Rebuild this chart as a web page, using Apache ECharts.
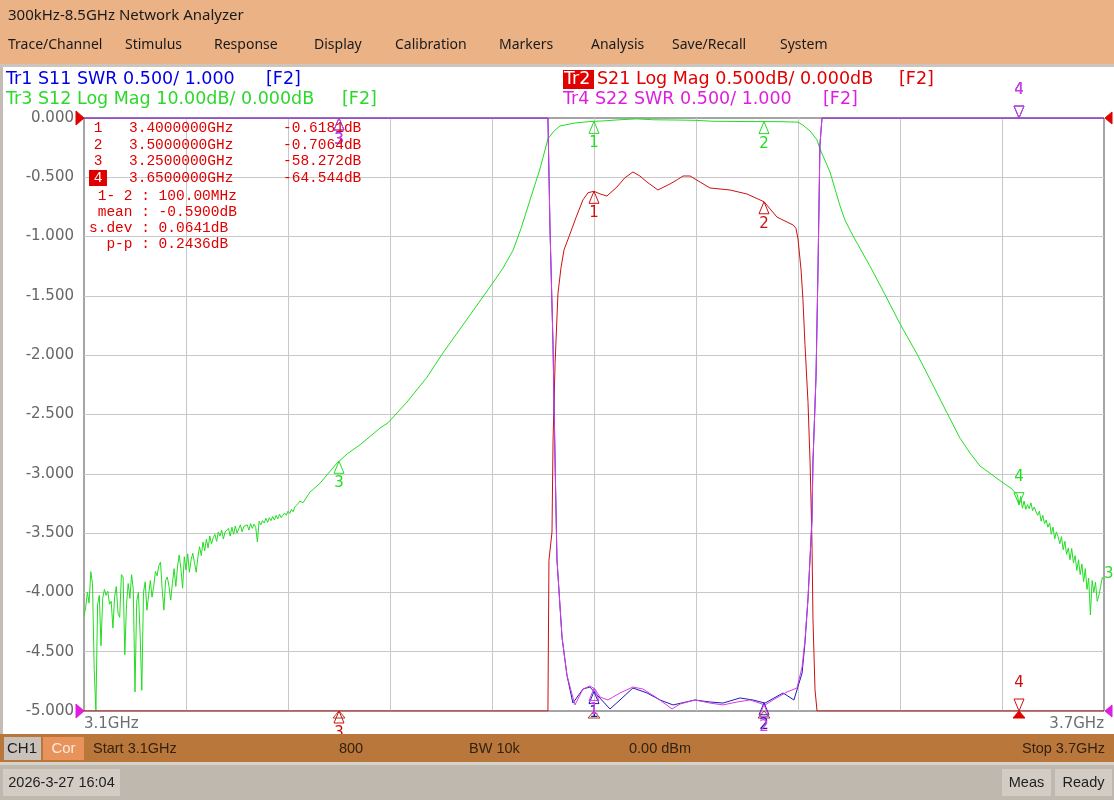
<!DOCTYPE html>
<html><head><meta charset="utf-8">
<script src="https://cdn.jsdelivr.net/npm/echarts@6/dist/echarts.min.js"></script>
<style>html,body{margin:0;padding:0;background:#fff;overflow:hidden}#c{width:1114px;height:800px}</style>
</head><body><div id="c"></div>
<script>
const START_GHZ = 3.1, STOP_GHZ = 3.7;
const xEndLabels = ['3.1GHz', '3.7GHz'];
const yTickDecimals = 3;

// Tr2 S21 Log Mag [GHz, dB] (display floor at -5 dB)
const s21 = [
  [3.1000,-5.0],[3.3729,-5.0],[3.3735,-3.73],[3.3753,-3.49],[3.3759,-2.73],[3.3771,-2.07],
  [3.3788,-1.48],[3.3806,-1.26],[3.3824,-1.11],[3.3853,-1.00],[3.3894,-0.84],[3.3935,-0.69],
  [3.3965,-0.63],[3.4000,-0.618],[3.4035,-0.64],[3.4076,-0.658],[3.4135,-0.582],[3.4180,-0.506],
  [3.4229,-0.455],[3.4270,-0.489],[3.4312,-0.540],[3.4376,-0.607],[3.4447,-0.556],[3.4490,-0.52],
  [3.4524,-0.489],[3.4565,-0.489],[3.4624,-0.540],[3.4682,-0.590],[3.4800,-0.607],[3.4900,-0.641],
  [3.5000,-0.706],[3.5076,-0.835],[3.5135,-0.877],[3.5171,-0.902],[3.5188,-0.93],[3.5200,-1.02],
  [3.5218,-1.28],[3.5229,-1.53],[3.5241,-1.91],[3.5259,-2.40],[3.5271,-2.90],[3.5282,-3.56],
  [3.5288,-4.22],[3.5300,-4.82],[3.5312,-5.0],[3.7000,-5.0]
];

// Tr3 S12 Log Mag [dB]; noisy floor sampled every 1 MHz
const s12NoiseStep = 0.001;
const s12NoiseLowStart = 3.100;
const s12NoiseLow = [
  -84.0,-82.5,-80.0,-81.8,-76.5,-78.5,-93.0,-100.0,-82.0,-80.5,
  -89.0,-81.0,-79.5,-80.5,-79.8,-82.0,-81.5,-86.0,-80.8,-79.0,
  -83.5,-84.2,-77.0,-77.4,-90.5,-82.0,-78.5,-81.0,-77.0,-79.5,
  -96.8,-81.5,-80.0,-87.0,-96.5,-80.0,-78.2,-83.0,-80.5,-78.0,
  -80.8,-79.0,-76.5,-77.2,-75.5,-74.9,-79.5,-83.0,-78.0,-77.4,
  -79.0,-81.3,-78.5,-76.0,-79.0,-75.7,-73.7,-76.0,-79.3,-74.0,
  -76.2,-73.5,-76.6,-74.5,-73.4,-75.0,-76.6,-74.0,-72.3,-73.8,
  -71.5,-73.0,-71.0,-72.5,-70.5,-71.8,-70.8,-70.2,-71.4,-69.8,
  -70.5,-69.5,-71.0,-69.8,-70.0,-69.2,-70.5,-69.0,-70.2,-68.8,
  -70.0,-69.3,-68.6,-69.8,-68.9,-69.1,-68.6,-69.5,-68.4,-69.2,
  -68.5,-69.0,-71.5,-68.0,-68.6,-67.9,-68.3,-67.5,-68.2,-67.4,
  -67.9,-67.2,-67.8,-67.0,-67.6,-66.8,-67.4,-67.2,-66.6,-67.0,
  -66.3,-66.7,-66.0,-66.4,-65.6,-65.9,-65.0,-64.6
];
const s12Sweep = [
  [3.2288,-64.9],[3.2329,-63.1],[3.2388,-61.6],[3.2488,-58.2],[3.2550,-56.6],[3.2624,-55.1],
  [3.2741,-52.3],[3.2788,-51.4],[3.2900,-47.9],[3.3018,-43.7],[3.3112,-39.6],[3.3229,-34.9],
  [3.3388,-28.5],[3.3465,-25.3],[3.3524,-22.3],[3.3571,-18.6],[3.3624,-13.8],[3.3682,-8.6],
  [3.3729,-3.54],[3.3765,-2.19],[3.3800,-1.35],[3.3888,-0.84],[3.3976,-0.60],[3.4050,-0.50],
  [3.4150,-0.30],[3.4250,-0.15],[3.4350,-0.30],[3.4500,-0.35],[3.4600,-0.40],[3.4700,-0.55],
  [3.4900,-0.60],[3.5100,-0.62],[3.5200,-0.70],[3.5229,-1.2],[3.5271,-2.2],[3.5312,-3.7],
  [3.5329,-5.2],[3.5388,-9.1],[3.5447,-14.8],[3.5476,-17.2],[3.5524,-19.9],[3.5624,-25.0],
  [3.5712,-29.8],[3.5800,-34.7],[3.5900,-39.8],[3.5988,-44.7],[3.6076,-49.7],[3.6153,-54.0],
  [3.6212,-56.5],[3.6271,-58.7],[3.6329,-59.9],[3.6400,-61.4]
];
const s12NoiseHighStart = 3.646;
const s12NoiseHigh = [
  -62.6,-63.0,-62.8,-63.5,-65.2,-63.8,-65.8,-64.6,-66.0,-65.2,
  -65.9,-64.9,-66.2,-65.6,-66.4,-67.0,-66.3,-68.0,-67.0,-68.4,
  -67.8,-69.0,-68.3,-70.2,-69.0,-71.0,-69.8,-70.6,-71.8,-70.6,
  -72.8,-71.4,-73.6,-72.5,-74.5,-72.6,-75.0,-73.8,-76.3,-74.5,
  -77.0,-75.2,-78.2,-76.0,-79.5,-77.6,-83.8,-78.0,-80.0,-78.3,
  -81.5,-80.5,-79.0,-77.5,-77.8
];

// Tr1 S11 SWR and Tr4 S22 SWR [GHz, SWR] (display ceiling at SWR 6.0)
const s11 = [
  [3.1000,6.0],[3.3729,6.0],[3.3741,5.08],[3.3759,4.09],[3.3771,3.11],[3.3782,2.28],[3.3812,1.62],
  [3.3841,1.30],[3.3876,1.067],[3.3935,1.185],[3.3976,1.202],[3.4018,1.135],[3.4094,1.017],
  [3.4153,1.093],[3.4229,1.194],[3.4312,1.152],[3.4388,1.093],[3.4465,1.051],[3.4594,1.093],
  [3.4682,1.076],[3.4759,1.067],[3.4859,1.110],[3.4935,1.093],[3.5006,1.067],[3.5112,1.152],
  [3.5176,1.093],[3.5224,1.320],[3.5241,1.573],[3.5259,1.95],[3.5282,2.61],[3.5288,3.10],
  [3.5306,3.82],[3.5318,4.75],[3.5329,5.77],[3.5341,6.0],[3.7000,6.0]
];
const s22 = [
  [3.1000,6.0],[3.3729,6.0],[3.3741,5.08],[3.3759,4.09],[3.3771,3.11],[3.3782,2.28],[3.3812,1.62],
  [3.3841,1.30],[3.3888,1.051],[3.3935,1.185],[3.3976,1.211],[3.4006,1.185],[3.4035,1.118],
  [3.4082,1.093],[3.4153,1.152],[3.4229,1.202],[3.4288,1.185],[3.4371,1.110],[3.4459,1.017],
  [3.4506,1.059],[3.4594,1.093],[3.4682,1.067],[3.4759,1.051],[3.4841,1.076],[3.4918,1.093],
  [3.5006,1.051],[3.5053,1.093],[3.5135,1.160],[3.5194,1.194],[3.5224,1.371],[3.5241,1.599],
  [3.5259,1.95],[3.5282,2.61],[3.5288,3.10],[3.5306,3.82],[3.5318,4.75],[3.5329,5.77],
  [3.5341,6.0],[3.7000,6.0]
];

const markerFreqs = [3.40, 3.50, 3.25, 3.65];
const markerNames = ['1', '2', '3', '4'];
const activeMarker = 3;
const markerTableFreq = ['3.4000000GHz', '3.5000000GHz', '3.2500000GHz', '3.6500000GHz'];
const markerTableVal = ['-0.6181dB', '-0.7064dB', '-58.272dB', '-64.544dB'];
const markerStats = [' 1- 2 : 100.00MHz', ' mean : -0.5900dB', 's.dev : 0.0641dB', '  p-p : 0.2436dB'];

const menuItems = ['Trace/Channel','Stimulus','Response','Display','Calibration','Markers','Analysis','Save/Recall','System'];

// ---------------- build display ----------------
const s12 = [];
s12NoiseLow.forEach((v, i) => s12.push([+(s12NoiseLowStart + i * s12NoiseStep).toFixed(4), v]));
s12Sweep.forEach(p => s12.push(p));
s12NoiseHigh.forEach((v, i) => s12.push([+(s12NoiseHighStart + i * s12NoiseStep).toFixed(4), v]));

const X = f => +((f - START_GHZ) * 1000).toFixed(3);   // MHz from start
const SPAN = X(STOP_GHZ);
const clip = v => Math.max(-5, Math.min(0, v));
const dS21 = v => clip(v);            // 0.500 dB/div, ref 0 dB top
const dS12 = v => clip(v / 20);       // 10 dB/div, ref 0 dB top
const dSWR = v => clip(v - 6);        // 0.500/div, ref 1.000 bottom

function valueAt(pairs, f) {
  for (let i = 1; i < pairs.length; i++) {
    if (pairs[i][0] >= f) {
      const [f0, v0] = pairs[i - 1], [f1, v1] = pairs[i];
      return v0 + (v1 - v0) * (f - f0) / (f1 - f0);
    }
  }
  return pairs[pairs.length - 1][1];
}

const C = {
  blueTxt: '#0000E6', blue: '#1C1CB4',
  greenTxt: '#2CD82C', green: '#22DD22',
  redTxt: '#E00000', red: '#CC1010',
  magTxt: '#DE1EDE', mag: '#D83AE6'
};

const chart = echarts.init(document.getElementById('c'), null, {renderer: 'canvas', width: 1114, height: 800});
const lineSeries = (name, data, color, z) => ({
  name, type: 'line', data, showSymbol: false, symbol: 'none', z,
  lineStyle: {color, width: 1}, animation: false, silent: true
});

chart.setOption({
  backgroundColor: '#ffffff',
  animation: false,
  grid: {left: 84, top: 118, width: 1020, height: 593, show: true, borderColor: '#4a4a4a', borderWidth: 1, backgroundColor: 'transparent'},
  xAxis: {
    type: 'value', min: 0, max: SPAN, interval: 60,
    axisLine: {show: false}, axisTick: {show: false},
    splitLine: {show: true, showMinLine: false, showMaxLine: false, lineStyle: {color: '#c8c8c8', width: 1}},
    axisLabel: {
      show: true, interval: 0, showMinLabel: true, showMaxLabel: true, hideOverlap: false,
      alignMinLabel: 'left', alignMaxLabel: 'right',
      formatter: v => v === 0 ? xEndLabels[0] : (v === SPAN ? xEndLabels[1] : ''),
      color: '#6e6e6e', fontSize: 15, fontFamily: 'DejaVu Sans', margin: 6
    }
  },
  yAxis: {
    type: 'value', min: -5, max: 0, interval: 0.5,
    axisLine: {show: false}, axisTick: {show: false},
    splitLine: {show: true, showMinLine: false, showMaxLine: false, lineStyle: {color: '#c8c8c8', width: 1}},
    axisLabel: {formatter: v => (Math.abs(v) < 1e-9 ? 0 : v).toFixed(yTickDecimals), color: '#666666', fontSize: 15, fontFamily: 'DejaVu Sans', margin: 10}
  },
  series: [
    lineSeries('S12', s12.map(([f, v]) => [X(f), dS12(v)]), C.green, 2),
    lineSeries('S21', s21.map(([f, v]) => [X(f), dS21(v)]), C.red, 3),
    lineSeries('S11', s11.map(([f, v]) => [X(f), dSWR(v)]), C.blue, 4),
    lineSeries('S22', s22.map(([f, v]) => [X(f), dSWR(v)]), C.mag, 5)
  ]
});

// ---------------- graphics ----------------
const G = [];
const Z = 100;
const txt = (text, x, y, fill, font, align) => G.push({type: 'text', z: Z, x, y, silent: true,
  style: {text, fill, font, align: align || 'left', verticalAlign: 'middle'}});
const rect = (x, y, w, h, fill) => G.push({type: 'rect', z: Z, silent: true, shape: {x, y, width: w, height: h}, style: {fill}});
const poly = (pts, stroke, fill) => G.push({type: 'polygon', z: Z, silent: true, shape: {points: pts},
  style: {fill: fill || 'none', stroke: stroke || 'none', lineWidth: 1}});

const px = (f, v) => chart.convertToPixel({xAxisIndex: 0, yAxisIndex: 0}, [X(f), v]);
const MK_FONT = '15px "DejaVu Sans"';
function upMarker(p, color, label) {
  poly([[p[0], p[1]], [p[0] - 5, p[1] + 12], [p[0] + 5, p[1] + 12]], color);
  txt(label, p[0], p[1] + 22, color, MK_FONT, 'center');
}
function downMarker(p, color, label) {
  poly([[p[0], p[1]], [p[0] - 5, p[1] - 12], [p[0] + 5, p[1] - 12]], color);
  txt(label, p[0], p[1] - 28, color, MK_FONT, 'center');
}
function traceMarkers(valFn, color) {
  markerFreqs.forEach((f, k) => {
    const p = px(f, valFn(f));
    if (k === activeMarker) downMarker(p, color, markerNames[k]);
    else upMarker(p, color, markerNames[k]);
  });
}
// stimulus indicators on the bottom edge
markerFreqs.forEach((f, k) => {
  const p = px(f, -5);
  if (k === activeMarker) poly([[p[0], p[1]], [p[0] - 6, p[1] + 7], [p[0] + 6, p[1] + 7]], C.redTxt, C.redTxt);
  else poly([[p[0], p[1]], [p[0] - 6, p[1] + 7], [p[0] + 6, p[1] + 7]], '#A8401C');
});
traceMarkers(f => dS12(valueAt(s12, f)), C.green);
traceMarkers(f => dSWR(valueAt(s11, f)), C.blue);
traceMarkers(f => dSWR(valueAt(s22, f)), C.mag);
traceMarkers(f => {
  const k = markerFreqs.indexOf(f);
  return dS21(parseFloat(markerTableVal[k]));
}, C.red);

// reference position arrows
const topL = px(START_GHZ, 0), botL = px(START_GHZ, -5), topR = px(STOP_GHZ, 0), botR = px(STOP_GHZ, -5);
poly([[topL[0], topL[1]], [topL[0] - 8, topL[1] - 7], [topL[0] - 8, topL[1] + 7]], C.redTxt, C.redTxt);
poly([[botL[0], botL[1]], [botL[0] - 8, botL[1] - 7], [botL[0] - 8, botL[1] + 7]], C.magTxt, C.magTxt);
poly([[topR[0] + 1, topR[1]], [topR[0] + 8, topR[1] - 6], [topR[0] + 8, topR[1] + 6]], C.redTxt, C.redTxt);
poly([[botR[0] + 1, botR[1]], [botR[0] + 8, botR[1] - 6], [botR[0] + 8, botR[1] + 6]], C.magTxt, C.magTxt);
txt('3', 1104, 574, C.greenTxt, MK_FONT, 'left');

// marker table
const MONO = '14.5px "Liberation Mono"';
const rowY = [128, 145, 161, 178];
markerNames.forEach((n, k) => {
  if (k === activeMarker) {
    rect(89, rowY[k] - 8, 18, 16, C.redTxt);
    txt(n, 98, rowY[k], '#ffffff', MONO, 'center');
  } else {
    txt(n, 98, rowY[k], C.redTxt, MONO, 'center');
  }
  txt(markerTableFreq[k], 129, rowY[k], C.redTxt, MONO);
  txt(markerTableVal[k], 283, rowY[k], C.redTxt, MONO);
});
const statY = [196, 212, 228, 244];
markerStats.forEach((s, k) => txt(s, 89, statY[k], C.redTxt, MONO));

// trace header lines
const HF = '17.5px "DejaVu Sans"';
txt('Tr1 S11 SWR 0.500/ 1.000', 6, 79, C.blueTxt, HF);
txt('[F2]', 266, 79, C.blueTxt, HF);
txt('Tr3 S12 Log Mag 10.00dB/ 0.000dB', 6, 99, C.greenTxt, HF);
txt('[F2]', 342, 99, C.greenTxt, HF);
rect(563, 70, 31, 19, C.redTxt);
txt('Tr2', 564, 79, '#ffffff', HF);
txt('S21 Log Mag 0.500dB/ 0.000dB', 597, 79, C.redTxt, HF);
txt('[F2]', 899, 79, C.redTxt, HF);
txt('Tr4 S22 SWR 0.500/ 1.000', 563, 99, C.magTxt, HF);
txt('[F2]', 823, 99, C.magTxt, HF);

// window chrome
rect(0, 0, 1114, 64, '#EBB286');
rect(0, 64, 1114, 3, '#CBC5BE');
rect(0, 67, 3, 667, '#C4BDB5');
txt('300kHz-8.5GHz Network Analyzer', 8, 16, '#1a1a1a', '15px "Noto Sans"');
const menuX = [8, 125, 214, 314, 395, 499, 591, 672, 780];
menuItems.forEach((m, i) => txt(m, menuX[i], 45, '#1a1a1a', '14px "Noto Sans"'));

rect(0, 734, 1114, 28, '#B9773C');
rect(4, 737, 37, 23, '#C9C2BA');
txt('CH1', 22, 748.5, '#1e1e1e', '15px "Liberation Sans"', 'center');
rect(43, 737, 41, 23, '#E8935C');
txt('Cor', 63.5, 748.5, '#FBEBDD', '15px "Liberation Sans"', 'center');
const SF = '14.5px "Liberation Sans"', SC = '#33220f';
txt('Start 3.1GHz', 93, 748.5, SC, SF);
txt('800', 351, 748.5, SC, SF, 'center');
txt('BW 10k', 469, 748.5, SC, SF);
txt('0.00 dBm', 629, 748.5, SC, SF);
txt('Stop 3.7GHz', 1105, 748.5, SC, SF, 'right');
rect(0, 762, 1114, 3, '#D8D2CB');
rect(0, 765, 1114, 35, '#BFB8AE');
rect(3, 769, 117, 27, '#D2CCC4');
txt('2026-3-27 16:04', 61.5, 783, '#1e1e1e', SF, 'center');
rect(1002, 769, 49, 27, '#D2CCC4');
txt('Meas', 1026.5, 783, '#1e1e1e', SF, 'center');
rect(1055, 769, 57, 27, '#D2CCC4');
txt('Ready', 1083.5, 783, '#1e1e1e', SF, 'center');

chart.setOption({graphic: {elements: G}});
</script>
</body></html>
